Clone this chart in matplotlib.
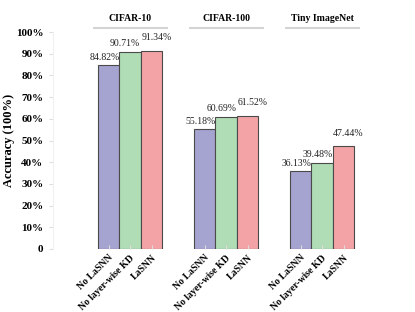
"""Ablation bar chart: accuracy per dataset for three model variants."""
import matplotlib
matplotlib.use("Agg")
import matplotlib.pyplot as plt
import matplotlib.transforms as mtransforms
import numpy as np

datasets = ["CIFAR-10", "CIFAR-100", "Tiny ImageNet"]
variants = ["No LaSNN", "No layer-wise KD", "LaSNN"]
no_lasnn = [84.82, 55.18, 36.13]
no_layer_kd = [90.71, 60.69, 39.48]
lasnn = [91.34, 61.52, 47.44]
yticks = [0, 10, 20, 30, 40, 50, 60, 70, 80, 90, 100]
ytick_labels = ["0", "10%", "20%", "30%", "40%", "50%", "60%", "70%", "80%", "90%", "100%"]

colors = ["#a5a3d0", "#b0dcb6", "#f3a3a6"]
# per-variant label nudges (x in bar units, y in points) as in the original
label_dx = [-0.04, -0.05, 0.05]
label_dy = [2, 3, 6]

plt.rcParams["font.family"] = ["Liberation Serif", "DejaVu Serif"]

fig = plt.figure(figsize=(4.15, 3.12), dpi=100)
ax = fig.add_axes([53 / 415, 63 / 312, 347 / 415, 217 / 312])

width = 0.224
centers = np.arange(len(datasets))
series = [no_lasnn, no_layer_kd, lasnn]
xt, xl = [], []
for i, vals in enumerate(series):
    xs = centers + (i - 1) * width
    ax.bar(xs, vals, width, color=colors[i], edgecolor="#4a4a4a", linewidth=0.8)
    for x, v in zip(xs, vals):
        ax.annotate(f"{v:.2f}%", (x + label_dx[i], v), xytext=(0, label_dy[i]),
                    textcoords="offset points", ha="center", va="bottom",
                    fontsize=7, color="#222222")
    xt.extend(xs)
    xl.extend([variants[i]] * len(xs))

ax.set_xticks(xt)
ax.set_xticklabels(xl, rotation=45, ha="right", va="top", rotation_mode="anchor",
                   fontsize=7, fontweight="bold")
ax.tick_params(axis="x", direction="in", length=3, color="#dddddd", pad=3)
ax.set_xlim(-0.802, 2.81)
ax.set_ylim(0, 100)
ax.set_yticks(yticks)
ax.set_yticklabels(ytick_labels, fontsize=8, fontweight="bold")
ax.tick_params(axis="y", length=3, color="#dddddd", pad=4)
ax.set_ylabel("Accuracy (100%)", fontsize=9, fontweight="bold")
ax.yaxis.set_label_coords(-0.11, 0.5)
for s in ["top", "right", "bottom"]:
    ax.spines[s].set_visible(False)
ax.spines["left"].set_color("#f0f0f0")

# facet-style headers above each group
trans = mtransforms.blended_transform_factory(ax.transData, ax.transAxes)
for c, name in zip(centers, datasets):
    ax.plot([c - 0.39, c + 0.39], [1.02, 1.02], transform=trans, color="#d4d4d4",
            linewidth=1.5, clip_on=False, solid_capstyle="butt")
    ax.text(c, 1.04, name, transform=trans, ha="center", va="bottom",
            fontsize=7, fontweight="bold")

fig.savefig("out.png", dpi=100)
